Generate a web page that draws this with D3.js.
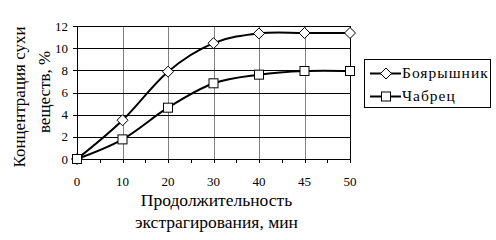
<!DOCTYPE html>
<html><head><meta charset="utf-8">
<script src="https://cdn.jsdelivr.net/npm/d3@7"></script>
<style>body{margin:0;background:#fff}svg{display:block}</style>
</head><body>
<svg id="c" width="496" height="240"></svg>
<script>
const categories = ["0","10","20","30","40","45","50"];
const seriesNames = ["Боярышник","Чабрец"];
const boyaryshnik = [0, 3.5, 7.88, 10.45, 11.33, 11.37, 11.37];
const chabrets = [0, 1.77, 4.63, 6.83, 7.61, 7.94, 7.94];
const yTicks = [0,2,4,6,8,10,12];
const yTitle = ["Концентрация сухи","веществ, %"];
const xTitle = ["Продолжительность","экстрагирования, мин"];
const FONT = "Liberation Serif";

const svg = d3.select("#c");
const L=77, R=350, T=26, B=159;
const x = d3.scalePoint().domain(categories).range([L,R]);
const y = d3.scaleLinear().domain([0,12]).range([B,T]);
const step = x.step();

svg.append("g").selectAll("line").data(categories.slice(1,-1)).join("line")
  .attr("x1",d=>Math.round(x(d))+0.5).attr("x2",d=>Math.round(x(d))+0.5).attr("y1",T).attr("y2",B)
  .attr("stroke","#808080").attr("stroke-width",1);
svg.append("g").selectAll("line").data(yTicks).join("line")
  .attr("x1",L-4).attr("x2",R).attr("y1",d=>Math.round(y(d))+0.5).attr("y2",d=>Math.round(y(d))+0.5)
  .attr("stroke","#000").attr("stroke-width",1);
svg.append("line").attr("x1",L+0.5).attr("x2",L+0.5).attr("y1",T).attr("y2",B+0.5).attr("stroke","#000");
svg.append("line").attr("x1",R+0.5).attr("x2",R+0.5).attr("y1",T).attr("y2",B+0.5).attr("stroke","#000");
svg.append("g").selectAll("line").data(categories.slice(0,-1)).join("line")
  .attr("x1",d=>Math.round(x(d)+step/2)+0.5).attr("x2",d=>Math.round(x(d)+step/2)+0.5)
  .attr("y1",B).attr("y2",B+4).attr("stroke","#000");
svg.append("g").selectAll("line").data(categories).join("line")
  .attr("x1",d=>Math.round(x(d))+0.5).attr("x2",d=>Math.round(x(d))+0.5)
  .attr("y1",B).attr("y2",B+4).attr("stroke","#000");

svg.append("g").selectAll("text").data(yTicks).join("text")
  .attr("font-family",FONT)
  .attr("x",L-9).attr("y",d=>y(d)+4.5).attr("text-anchor","end").attr("font-size",13).text(d=>d);
svg.append("g").selectAll("text").data(categories).join("text")
  .attr("font-family",FONT)
  .attr("x",d=>x(d)).attr("y",B+27).attr("text-anchor","middle").attr("font-size",13).text(d=>d);

svg.append("g").selectAll("text").data(xTitle).join("text")
  .attr("font-family",FONT)
  .attr("x",(L+R)/2+3).attr("y",(d,i)=>206+i*22).attr("text-anchor","middle").attr("font-size",17.5).text(d=>d);
svg.append("g").selectAll("text").data(yTitle).join("text")
  .attr("font-family",FONT)
  .attr("transform",(d,i)=>`translate(${25+i*25},${i?92:97}) rotate(-90)`)
  .attr("text-anchor","middle").attr("font-size",17).text(d=>d);

const line = d3.line().x((d,i)=>x(categories[i])).y(d=>y(d)).curve(d3.curveCatmullRom.alpha(0));
const data = [boyaryshnik, chabrets];
svg.append("g").selectAll("path").data(data).join("path")
  .attr("d",line).attr("fill","none").attr("stroke","#000").attr("stroke-width",2);

function marker(g, type, cx, cy){
  if(type===0){
    g.append("path").attr("d",`M${cx},${cy-5.5}L${cx+5.5},${cy}L${cx},${cy+5.5}L${cx-5.5},${cy}Z`)
      .attr("fill","#fff").attr("stroke","#000").attr("stroke-width",1);
  } else {
    g.append("rect").attr("x",cx-4.5).attr("y",cy-4.5).attr("width",9).attr("height",9)
      .attr("fill","#fff").attr("stroke","#000").attr("stroke-width",1);
  }
}
const mg = svg.append("g");
data.forEach((s,k)=>s.forEach((v,i)=>marker(mg,k,x(categories[i]),y(v))));

const lg = svg.append("g");
lg.append("rect").attr("x",364.5).attr("y",59.5).attr("width",126).attr("height",48)
  .attr("fill","#fff").attr("stroke","#000");
seriesNames.forEach((n,k)=>{
  const ly = 73.5 + k*23;
  lg.append("line").attr("x1",370).attr("x2",401).attr("y1",ly).attr("y2",ly).attr("stroke","#000").attr("stroke-width",2);
  marker(lg,k,386,ly);
  lg.append("text").attr("font-family",FONT).attr("x",402).attr("y",ly+4.5)
    .attr("font-size",15.5).attr("letter-spacing",1).text(n);
});
</script>
</body></html>
